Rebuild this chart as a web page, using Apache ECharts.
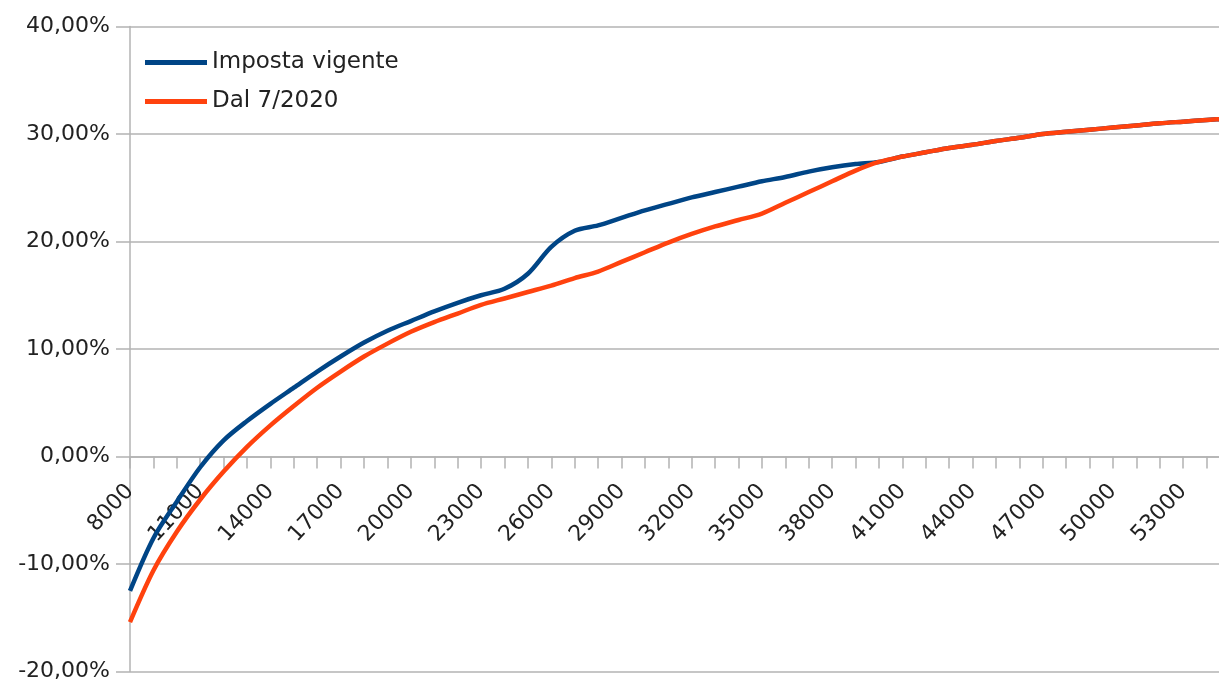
<!DOCTYPE html>
<html>
<head>
<meta charset="utf-8">
<script src="https://cdn.jsdelivr.net/npm/echarts@6/dist/echarts.min.js"></script>
<style>
html,body{margin:0;padding:0;background:#fff;}
#chart{width:1219px;height:681px;}
</style>
</head>
<body>
<div id="chart"></div>
<script>
const categories = ['8000','9000','10000','11000','12000','13000','14000','15000','16000','17000','18000','19000','20000','21000','22000','23000','24000','25000','26000','27000','28000','29000','30000','31000','32000','33000','34000','35000','36000','37000','38000','39000','40000','41000','42000','43000','44000','45000','46000','47000','48000','49000','50000','51000','52000','53000','54000','55000'];

const impostaVigente = [-12.5,-7.6,-4.2,-1.0,1.5,3.3,4.9,6.4,7.9,9.3,10.6,11.7,12.6,13.5,14.3,15.0,15.6,17.0,19.5,21.0,21.5,22.2,22.9,23.5,24.1,24.6,25.1,25.6,26.0,26.5,26.9,27.2,27.4,27.9,28.3,28.7,29.0,29.35,29.65,30.0,30.2,30.4,30.6,30.8,31.0,31.15,31.3,31.45];

const dal72020 = [-15.4,-10.6,-7.0,-4.0,-1.4,0.9,2.9,4.7,6.4,7.9,9.3,10.5,11.6,12.5,13.3,14.1,14.7,15.3,15.9,16.6,17.2,18.1,19.0,19.9,20.7,21.4,22.0,22.6,23.6,24.6,25.6,26.6,27.4,27.9,28.3,28.7,29.0,29.35,29.65,30.0,30.2,30.4,30.6,30.8,31.0,31.15,31.3,31.45];

const seriesNames = ['Imposta vigente','Dal 7/2020'];
const yTicks = {min:-20, max:40, step:10};

const FONT = 'DejaVu Sans';
const GRID = '#b3b3b3';
const TOP = 26.5, BOTTOM = 9.5, H = 681;
// distance from grid bottom to the zero line (value axis position of 0)
const zeroOffset = (H - TOP - BOTTOM) * (0 - yTicks.min) / (yTicks.max - yTicks.min);

const chart = echarts.init(document.getElementById('chart'));
chart.setOption({
  animation:false,
  backgroundColor:'#ffffff',
  grid:{left:130, top:TOP, right:-11, bottom:BOTTOM, containLabel:false, outerBoundsMode:'none'},
  legend:{
    orient:'vertical', left:140, top:46, itemGap:16,
    icon:'rect', itemWidth:62, itemHeight:5,
    textStyle:{fontFamily:FONT, fontSize:23, color:'#222'},
    data:seriesNames
  },
  xAxis:{
    type:'category', data:categories, boundaryGap:false,
    offset:-zeroOffset,
    axisLine:{onZero:false, lineStyle:{color:GRID, width:1.5}},
    axisTick:{show:true, interval:0, length:12, lineStyle:{color:GRID, width:1.5}},
    axisLabel:{interval:2, rotate:47, margin:31, fontFamily:FONT, fontSize:22, color:'#222'},
    splitLine:{show:false}
  },
  yAxis:{
    type:'value', min:yTicks.min, max:yTicks.max, interval:yTicks.step,
    axisLine:{show:true, lineStyle:{color:GRID, width:1.5}},
    axisTick:{show:true, length:14, lineStyle:{color:GRID, width:1.5}},
    axisLabel:{margin:20, fontFamily:FONT, fontSize:22, color:'#222',
      formatter:v=>v.toFixed(2).replace('.',',')+'%'},
    splitLine:{lineStyle:{color:GRID, width:1.5}}
  },
  series:[
    {name:seriesNames[0], type:'line', data:impostaVigente, symbol:'none', smooth:0.3,
     lineStyle:{width:4.5, color:'#004586'}, itemStyle:{color:'#004586'}},
    {name:seriesNames[1], type:'line', data:dal72020, symbol:'none', smooth:0.3,
     lineStyle:{width:4.5, color:'#ff420e'}, itemStyle:{color:'#ff420e'}}
  ]
});
</script>
</body>
</html>
